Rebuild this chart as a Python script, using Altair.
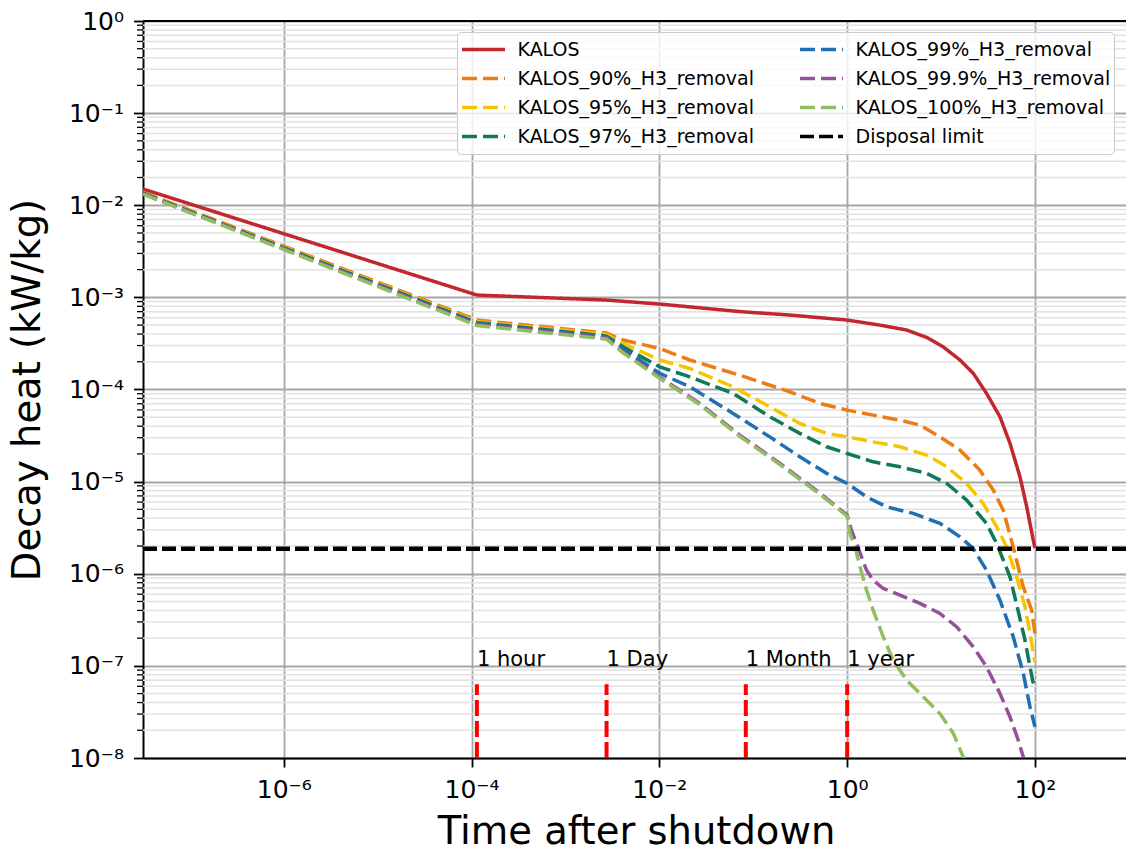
import json

import altair as alt
import pandas as pd

FONT = "DejaVu Sans"

# Time after shutdown (years) and decay heat (kW/kg) for each case
kalos_t = [3.17e-8, 1.14e-4, 2.74e-3, 1.01e-2, 7.19e-2, 0.245, 1.0, 2.23, 4.30, 7.01,
           10.5, 15.9, 22.0, 30.5, 42.4, 54.2, 69.2, 81.7, 96.0, 100]
kalos_q = [1.50e-2, 1.06e-3, 9.35e-4, 8.46e-4, 7.01e-4, 6.43e-4, 5.67e-4, 5.00e-4, 4.42e-4, 3.68e-4,
           2.91e-4, 2.09e-4, 1.50e-4, 9.07e-5, 5.06e-5, 2.60e-5, 1.13e-5, 5.32e-6, 2.30e-6, 1.90e-6]

r90_t = [3.17e-8, 1.14e-4, 2.74e-3, 4.10e-3, 1.01e-2, 2.11e-2, 7.19e-2, 0.245, 0.512, 1.0, 1.89,
         3.65, 5.96, 9.72, 15.9, 25.9, 36.0, 45.9, 58.7, 75.0, 92.3, 100]
r90_q = [1.38e-2, 5.67e-4, 4.10e-4, 3.44e-4, 2.79e-4, 2.09e-4, 1.43e-4, 9.44e-5, 7.06e-5, 5.97e-5, 5.27e-5,
         4.65e-5, 4.10e-5, 3.06e-5, 2.20e-5, 1.33e-5, 8.09e-6, 4.91e-6, 1.95e-6, 7.21e-7, 4.03e-7, 2.25e-7]

r95_t = [3.17e-8, 1.14e-4, 2.74e-3, 4.10e-3, 1.01e-2, 2.11e-2, 6.10e-2, 0.150, 0.313, 0.604, 1.0, 1.89,
         3.65, 7.01, 11.5, 18.7, 28.1, 39.1, 49.9, 63.8, 78.3, 88.5, 96.0, 100]
r95_q = [1.36e-2, 5.46e-4, 3.95e-4, 3.16e-4, 2.09e-4, 1.69e-4, 1.07e-4, 6.49e-5, 4.28e-5, 3.34e-5, 3.06e-5, 2.70e-5,
         2.39e-5, 1.94e-5, 1.45e-5, 9.55e-6, 5.80e-6, 3.23e-6, 1.96e-6, 9.25e-7, 4.38e-7, 2.27e-7, 1.37e-7, 1.10e-7]

r97_t = [3.17e-8, 1.14e-4, 2.74e-3, 4.10e-3, 1.01e-2, 2.11e-2, 6.10e-2, 0.150, 0.313, 0.604, 1.0, 1.89,
         3.65, 7.01, 11.5, 18.7, 30.5, 39.1, 54.2, 65.9, 78.3, 88.5, 95.2, 100]
r97_q = [1.35e-2, 5.32e-4, 3.80e-4, 2.91e-4, 1.76e-4, 1.37e-4, 9.07e-5, 5.06e-5, 3.34e-5, 2.39e-5, 2.02e-5, 1.64e-5,
         1.45e-5, 1.23e-5, 9.55e-6, 6.30e-6, 3.52e-6, 2.13e-6, 9.25e-7, 4.03e-7, 1.90e-7, 9.75e-8, 6.70e-8, 5.92e-8]

r99_t = [3.17e-8, 1.14e-4, 2.74e-3, 4.10e-3, 1.01e-2, 2.11e-2, 6.10e-2, 0.150, 0.313, 0.604, 1.0, 1.61,
         2.63, 5.05, 9.72, 15.9, 22.0, 30.5, 42.4, 58.7, 75.0, 88.5, 100]
r99_q = [1.34e-2, 5.20e-4, 3.71e-4, 2.75e-4, 1.50e-4, 1.07e-4, 5.50e-5, 3.06e-5, 1.86e-5, 1.23e-5, 9.55e-6, 6.84e-6,
         5.32e-6, 4.52e-6, 3.52e-6, 2.52e-6, 1.88e-6, 1.09e-6, 5.16e-7, 2.07e-7, 8.34e-8, 3.59e-8, 2.18e-8]

r999_t = [3.17e-8, 1.14e-4, 2.74e-3, 4.10e-3, 1.01e-2, 2.69e-2, 7.19e-2, 0.192, 0.512, 1.0, 1.11, 1.26,
          1.42, 1.61, 1.89, 2.42, 3.65, 5.96, 9.72, 14.7, 22.0, 30.5, 42.4, 54.2, 66.4, 75.0, 100]
r999_q = [1.33e-2, 5.07e-4, 3.61e-4, 2.57e-4, 1.36e-4, 7.06e-5, 3.20e-5, 1.58e-5, 7.50e-6, 4.33e-6, 2.97e-6, 2.13e-6,
          1.53e-6, 1.09e-6, 8.53e-7, 6.92e-7, 5.86e-7, 4.76e-7, 3.71e-7, 2.65e-7, 1.61e-7, 9.75e-8, 5.01e-8, 2.79e-8,
          1.56e-8, 1.03e-8, 3.9e-9]

r100_t = [3.17e-8, 1.14e-4, 2.74e-3, 4.10e-3, 1.01e-2, 2.69e-2, 7.19e-2, 0.192, 0.512, 1.0, 1.07, 1.21,
          1.37, 1.61, 1.89, 2.42, 3.09, 4.30, 6.46, 9.72, 13.5, 17.2, 25.9]
r100_q = [1.32e-2, 4.95e-4, 3.52e-4, 2.50e-4, 1.32e-4, 6.85e-5, 3.10e-5, 1.53e-5, 7.28e-6, 4.22e-6, 2.74e-6, 1.96e-6,
          1.19e-6, 6.64e-7, 4.03e-7, 2.07e-7, 1.15e-7, 7.00e-8, 4.61e-8, 3.04e-8, 1.85e-8, 1.03e-8, 3.5e-9]

series_names = ["KALOS", "KALOS_90%_H3_removal", "KALOS_95%_H3_removal", "KALOS_97%_H3_removal",
                "KALOS_99%_H3_removal", "KALOS_99.9%_H3_removal", "KALOS_100%_H3_removal"]
series_times = [kalos_t, r90_t, r95_t, r97_t, r99_t, r999_t, r100_t]
series_heat = [kalos_q, r90_q, r95_q, r97_q, r99_q, r999_q, r100_q]

limit_name = "Disposal limit"
limit_value = 1.87e-6

# Legend entries fill the two columns top to bottom
legend_order = series_names + [limit_name]
legend_colors = ["#c1272d", "#ec7c14", "#f6c500", "#11795a",
                 "#1f6fb2", "#96509a", "#8fbf60", "#000000"]
legend_dashes = [[1, 0], [15, 6], [15, 6], [15, 6],
                 [15, 6], [15, 6], [15, 6], [14, 5]]

marker_t = [1.14e-4, 2.74e-3, 8.33e-2, 1.0]
marker_text = ["1 hour", "1 Day", "1 Month", "1 year"]
marker_bottom = 1e-8
marker_top = 6.31e-8
marker_label_y = 1e-7

x_ticks = [1e-6, 1e-4, 1e-2, 1.0, 100.0]
y_major = [10.0 ** e for e in range(-8, 1)]
y_minor = [m * 10.0 ** e for e in range(-8, 0) for m in range(2, 10)]
exp_labels = ["10⁻⁸", "10⁻⁷", "10⁻⁶", "10⁻⁵", "10⁻⁴", "10⁻³", "10⁻²", "10⁻¹", "10⁰", "10¹", "10²"]
label_expr = json.dumps(exp_labels, ensure_ascii=False) + "[round(log(datum.value)/LN10) + 8]"

rows = []
for name, ts, qs in zip(series_names, series_times, series_heat):
    rows += [{"series": name, "t": t, "q": q} for t, q in zip(ts, qs)]
curves = pd.DataFrame(rows)
limit_df = pd.DataFrame({"series": [limit_name], "q": [limit_value]})
markers = pd.DataFrame({"t": marker_t, "label": marker_text,
                        "yb": [marker_bottom] * 4, "yt": [marker_top] * 4,
                        "ly": [marker_label_y] * 4})
minor_df = pd.DataFrame({"q": y_minor})
frame_df = pd.DataFrame({"k": [0]})

x_scale = alt.Scale(type="log", domain=[3.17e-8, 932], nice=False)
y_scale = alt.Scale(type="log", domain=[1e-8, 1], nice=False)

x_axis = alt.Axis(values=x_ticks, labelExpr=label_expr, title="Time after shutdown",
                  tickSize=9, tickWidth=1.8, tickColor="black",
                  domainColor="black", domainWidth=2,
                  grid=True, gridColor="#a6a6a6", gridWidth=1.8,
                  labelFont=FONT, labelFontSize=25, labelColor="black", labelPadding=10,
                  labelFlush=False, labelOverlap=False,
                  titleFont=FONT, titleFontSize=38.5, titleFontWeight="normal", titleColor="black",
                  titleY=85, titleBaseline="alphabetic", titleX=493)
y_axis = alt.Axis(values=y_major, labelExpr=label_expr, title="Decay heat (kW/kg)",
                  tickSize=9.5, tickWidth=1.8, tickColor="black",
                  domainColor="black", domainWidth=2,
                  grid=True, gridColor="#a6a6a6", gridWidth=1.8,
                  labelFont=FONT, labelFontSize=25, labelColor="black", labelPadding=10,
                  labelFlush=False, labelOverlap=False,
                  titleFont=FONT, titleFontSize=38.5, titleFontWeight="normal", titleColor="black",
                  titleX=-116, titleY=368.5, titleAngle=270, titleAlign="center",
                  titleBaseline="middle")


def X(field):
    return alt.X(field, type="quantitative", scale=x_scale, axis=x_axis)


def Y(field):
    return alt.Y(field, type="quantitative", scale=y_scale, axis=y_axis)


legend = alt.Legend(orient="none", legendX=314, legendY=11, columns=2, title=None,
                    symbolType="stroke", symbolSize=1849, symbolStrokeWidth=3.5,
                    labelFont=FONT, labelFontSize=19, labelColor="black", labelLimit=400,
                    labelOffset=10.5, padding=3, rowPadding=0, columnPadding=43, clipHeight=29,
                    strokeColor="#cccccc", fillColor="rgba(255,255,255,0.8)", cornerRadius=4)

color_enc = alt.Color("series:N", scale=alt.Scale(domain=legend_order, range=legend_colors),
                      legend=legend)
dash_enc = alt.StrokeDash("series:N", scale=alt.Scale(domain=legend_order, range=legend_dashes),
                          legend=legend)

# minor grid lines and minor ticks on the decay-heat axis
minor_grid = alt.Chart(minor_df).mark_rule(color="#e2e2e2", strokeWidth=1.5).encode(y=Y("q"))
minor_ticks = alt.Chart(minor_df).mark_rule(color="black", strokeWidth=1.3).encode(
    y=Y("q"), x=alt.value(-6), x2=alt.value(0))
top_spine = alt.Chart(frame_df).mark_rule(color="black", strokeWidth=2).encode(y=alt.value(0))

layers = [minor_grid, minor_ticks]
for name in series_names:
    layers.append(
        alt.Chart(curves).transform_filter(alt.datum.series == name)
        .mark_line(strokeWidth=3.5, clip=True)
        .encode(x=X("t"), y=Y("q"), color=color_enc, strokeDash=dash_enc)
    )

limit_rule = alt.Chart(limit_df).mark_rule(strokeWidth=4.5).encode(
    y=Y("q"), color=color_enc, strokeDash=dash_enc)

marker_rules = alt.Chart(markers).mark_rule(color="#ff0000", strokeWidth=4, strokeDash=[16, 5]).encode(
    x=X("t"), y=Y("yb"), y2="yt")
marker_labels = alt.Chart(markers).mark_text(
    align="left", baseline="alphabetic", font=FONT, fontSize=21, color="black").encode(
    x=X("t"), y=Y("ly"), text="label:N")

layers += [limit_rule, marker_rules, marker_labels, top_spine]

chart = (
    alt.layer(*layers)
    .properties(width=983, height=737,
                autosize=alt.AutoSizeParams(type="none"),
                padding={"left": 143, "top": 21, "right": 0, "bottom": 93},
                background="white")
    .configure_view(stroke=None)
)

chart.save("out.html", embed_options={"renderer": "svg", "actions": False})
